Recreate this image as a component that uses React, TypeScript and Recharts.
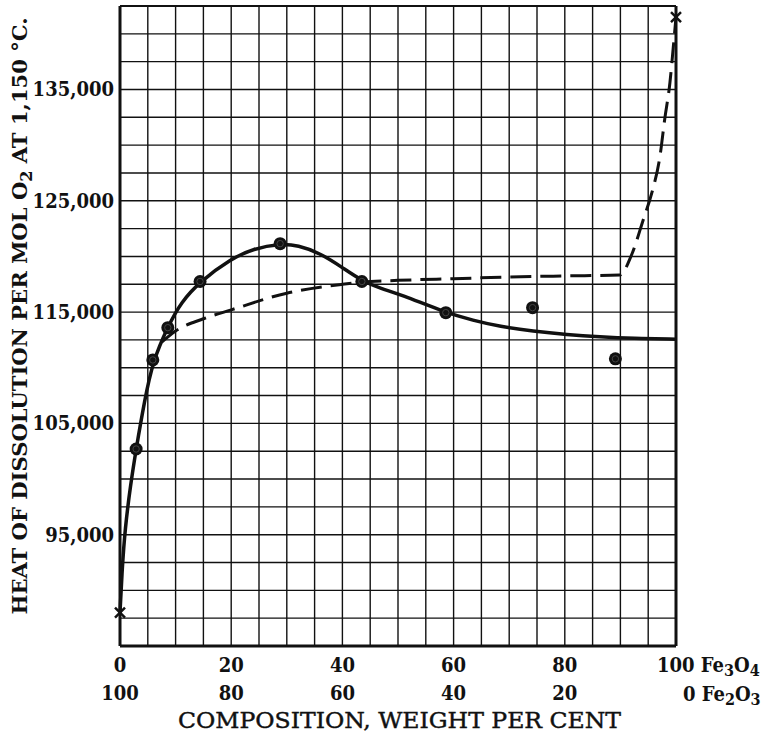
import { ComposedChart, Line, Scatter, XAxis, YAxis, CartesianGrid, ReferenceLine } from 'recharts'

// grid every 5 % / 2,500 units, labels only on some of them
const xTicks = [0, 5, 10, 15, 20, 25, 30, 35, 40, 45, 50, 55, 60, 65, 70, 75, 80, 85, 90, 95, 100]
const xLabelled = [0, 20, 40, 60, 80, 100]
const yTicks = [
  85000, 87500, 90000, 92500, 95000, 97500, 100000, 102500, 105000, 107500, 110000, 112500,
  115000, 117500, 120000, 122500, 125000, 127500, 130000, 132500, 135000, 137500, 140000, 142500,
]
const yLabelled = [95000, 105000, 115000, 125000, 135000]

// measured heats (dots)
const measured = [
  { x: 2.9, y: 102700 },
  { x: 5.9, y: 110700 },
  { x: 8.6, y: 113600 },
  { x: 14.4, y: 117750 },
  { x: 28.8, y: 121150 },
  { x: 43.5, y: 117750 },
  { x: 58.6, y: 114950 },
  { x: 74.2, y: 115400 },
  { x: 89.1, y: 110800 },
]

// pure oxides (crosses)
const endPoints = [
  { x: 0, y: 88000 },
  { x: 100, y: 141500 },
]

// smooth curve drawn through the dots
const solidCurve = [
  { x: 0, y: 88000 },
  { x: 0.4, y: 92000 },
  { x: 0.9, y: 95500 },
  { x: 1.9, y: 99500 },
  { x: 2.9, y: 102700 },
  { x: 4.4, y: 107000 },
  { x: 5.9, y: 110600 },
  { x: 8.6, y: 113700 },
  { x: 11, y: 115900 },
  { x: 14.4, y: 117750 },
  { x: 20, y: 119800 },
  { x: 24, y: 120700 },
  { x: 28.8, y: 121150 },
  { x: 32, y: 121000 },
  { x: 36, y: 120300 },
  { x: 40, y: 119000 },
  { x: 43.5, y: 117800 },
  { x: 47, y: 117100 },
  { x: 50.4, y: 116600 },
  { x: 58.6, y: 114950 },
  { x: 63.5, y: 114250 },
  { x: 68.3, y: 113700 },
  { x: 74.3, y: 113280 },
  { x: 80.4, y: 112980 },
  { x: 86.3, y: 112780 },
  { x: 92.3, y: 112640 },
  { x: 100, y: 112560 },
]

// calculated curve (dashed)
const dashedCurve = [
  { x: 7.5, y: 112300 },
  { x: 10, y: 113300 },
  { x: 15, y: 114400 },
  { x: 20, y: 115200 },
  { x: 30, y: 116700 },
  { x: 40, y: 117500 },
  { x: 43.5, y: 117700 },
  { x: 50, y: 117850 },
  { x: 60, y: 118000 },
  { x: 70, y: 118150 },
  { x: 80, y: 118250 },
  { x: 89.9, y: 118340 },
  { x: 92, y: 120130 },
  { x: 94.1, y: 123280 },
  { x: 95.7, y: 125790 },
  { x: 97.1, y: 128940 },
  { x: 98, y: 132440 },
  { x: 98.9, y: 135580 },
  { x: 99.5, y: 138730 },
  { x: 100, y: 141500 },
]

const ink = '#111'
const serif = "'DejaVu Serif Condensed', 'DejaVu Serif'"
const tickStyle = { fontFamily: serif, fontWeight: 700, fontSize: 20, fill: ink }

function XTick(props: any) {
  const { x, y, payload } = props
  const v = payload.value
  if (!xLabelled.includes(v)) return null
  if (v === 100) {
    return (
      <g>
        <text x={x - 19} y={y + 26} {...tickStyle}>
          100 Fe<tspan dy={4} fontSize={16}>3</tspan>
          <tspan dy={-4}>O</tspan>
          <tspan dy={4} fontSize={16}>4</tspan>
        </text>
        <text x={x + 7} y={y + 55} {...tickStyle}>
          0 Fe<tspan dy={4} fontSize={16}>2</tspan>
          <tspan dy={-4}>O</tspan>
          <tspan dy={4} fontSize={16}>3</tspan>
        </text>
      </g>
    )
  }
  return (
    <g>
      <text x={x} y={y + 26} textAnchor="middle" {...tickStyle}>{v}</text>
      <text x={x} y={y + 54} textAnchor="middle" {...tickStyle}>{100 - v}</text>
    </g>
  )
}

function YTick(props: any) {
  const { x, y, payload } = props
  if (!yLabelled.includes(payload.value)) return null
  return (
    <text x={x} y={y + 7} textAnchor="end" {...tickStyle}>
      {payload.value.toLocaleString('en-US')}
    </text>
  )
}

function Cross(props: any) {
  const { cx, cy } = props
  return (
    <g stroke={ink} strokeWidth={2.4}>
      <line x1={cx - 5} y1={cy - 5} x2={cx + 5} y2={cy + 5} />
      <line x1={cx - 5} y1={cy + 5} x2={cx + 5} y2={cy - 5} />
      <line x1={cx} y1={cy - 6} x2={cx} y2={cy + 6} strokeWidth={1.6} />
    </g>
  )
}

function Dot(props: any) {
  const { cx, cy } = props
  return (
    <g>
      <circle cx={cx} cy={cy} r={6.5} fill={ink} />
      <circle cx={cx} cy={cy} r={3.2} fill="none" stroke="#444" strokeWidth={1} />
    </g>
  )
}

export default function App() {
  return (
    <div style={{ position: 'absolute', left: 0, top: 0, background: '#fff' }}>
      <ComposedChart width={776} height={737} margin={{ top: 6, right: 100, bottom: 31, left: 40 }}>
        <CartesianGrid stroke={ink} strokeWidth={1.4} />
        <XAxis
          type="number"
          dataKey="x"
          domain={[0, 100]}
          ticks={xTicks}
          interval={0}
          height={60}
          tickSize={0}
          tickMargin={0}
          tick={<XTick />}
          axisLine={{ stroke: ink, strokeWidth: 3 }}
          tickLine={false}
          label={{
            content: () => (
              <text
                x={399.5}
                y={728}
                textAnchor="middle"
                textLength={443}
                lengthAdjust="spacingAndGlyphs"
                fontFamily={serif}
                fontSize={23}
                fill={ink}
                stroke={ink}
                strokeWidth={0.4}
              >
                COMPOSITION, WEIGHT PER CENT
              </text>
            ),
          }}
        />
        <YAxis
          type="number"
          dataKey="y"
          domain={[85000, 142500]}
          ticks={yTicks}
          interval={0}
          width={80}
          tickSize={0}
          tickMargin={6}
          tick={<YTick />}
          axisLine={{ stroke: ink, strokeWidth: 3 }}
          tickLine={false}
          label={{
            content: () => (
              <text
                transform="translate(27 316) rotate(-90)"
                textAnchor="middle"
                textLength={597}
                lengthAdjust="spacingAndGlyphs"
                fontFamily={serif}
                fontWeight={700}
                fontSize={21}
                fill={ink}
              >
                HEAT OF DISSOLUTION PER MOL O<tspan dy={5} fontSize={16}>2</tspan>
                <tspan dy={-5}> AT 1,150 °C.</tspan>
              </text>
            ),
          }}
        />
        <ReferenceLine x={100} stroke={ink} strokeWidth={3} />
        <ReferenceLine y={142500} stroke={ink} strokeWidth={1.8} />
        <Line
          data={dashedCurve}
          dataKey="y"
          type="monotone"
          stroke={ink}
          strokeWidth={3}
          strokeDasharray="21 9"
          dot={false}
          activeDot={false}
          isAnimationActive={false}
        />
        <Line
          data={solidCurve}
          dataKey="y"
          type="basis"
          stroke={ink}
          strokeWidth={3.5}
          dot={false}
          activeDot={false}
          isAnimationActive={false}
        />
        <Scatter data={measured} dataKey="y" shape={<Dot />} isAnimationActive={false} />
        <Scatter data={endPoints} dataKey="y" shape={<Cross />} isAnimationActive={false} />
      </ComposedChart>
    </div>
  )
}
